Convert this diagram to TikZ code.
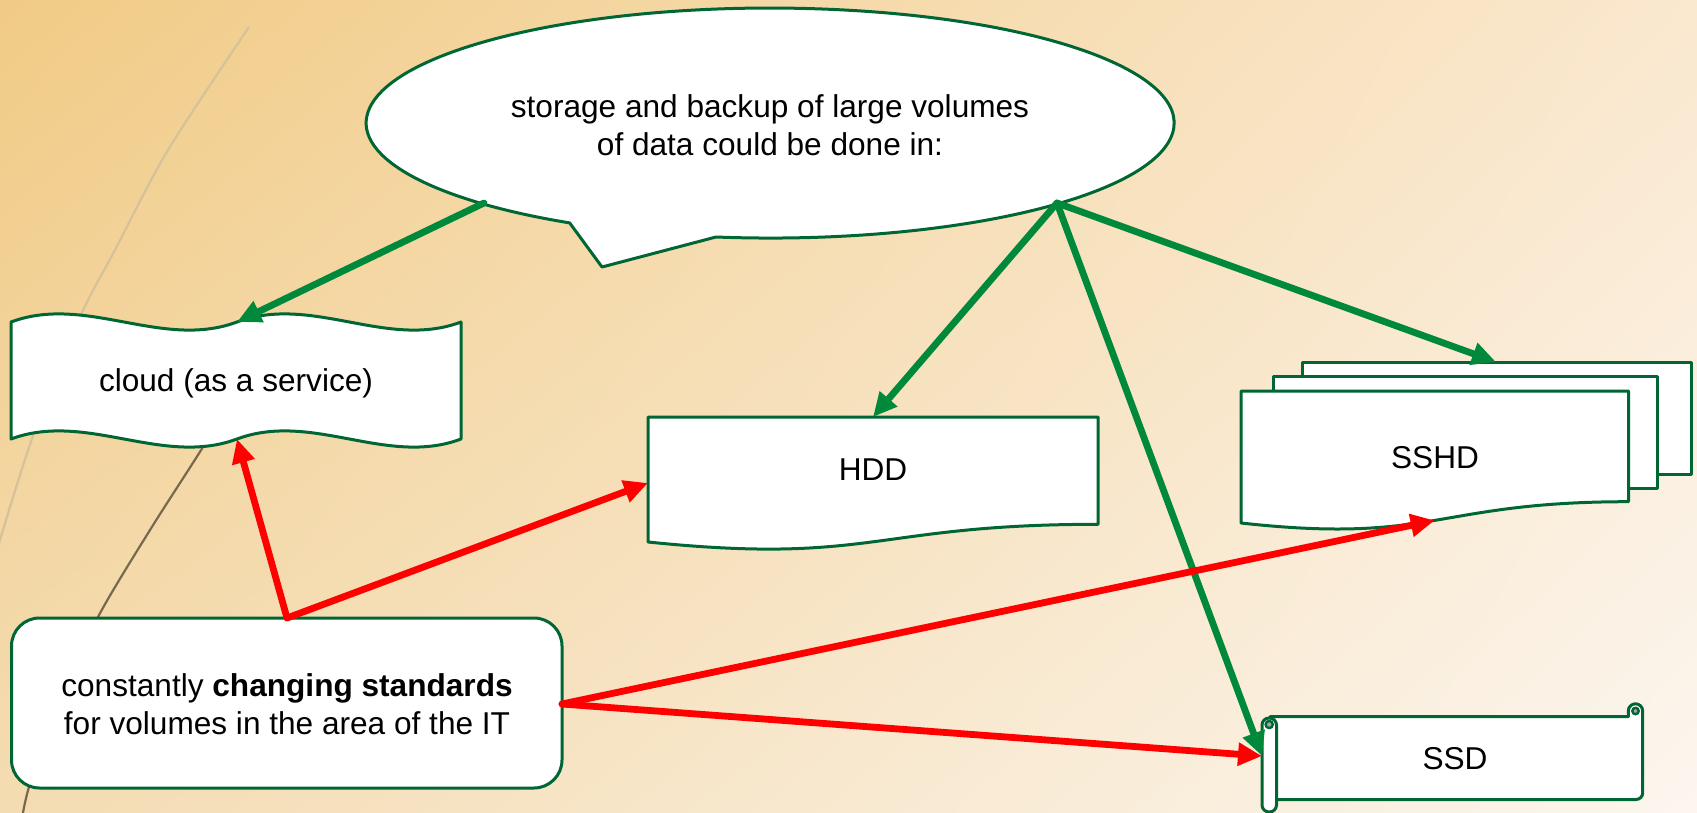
\documentclass[tikz,border=0pt]{standalone}
\usepackage{fontspec}
\setmainfont{Liberation Sans}
\usetikzlibrary{arrows.meta,shadings}

\definecolor{bgUL}{HTML}{F1CB85}
\definecolor{bgUR}{HTML}{FAE8CF}
\definecolor{bgLL}{HTML}{F4DCB2}
\definecolor{bgLR}{HTML}{FCF6EF}
\definecolor{arcLight}{HTML}{D5C29A}
\definecolor{arcDark}{HTML}{776850}
\definecolor{outline}{HTML}{006633}
\definecolor{arrowgreen}{HTML}{00893A}
\definecolor{arrowred}{HTML}{FF0000}
\definecolor{curlgray}{HTML}{A6A6A6}

\begin{document}
\begin{tikzpicture}[x=0.5pt,y=-0.5pt,
  shapebox/.style={draw=outline, line width=1.5pt, fill=white, line join=round},
  label/.style={font=\fontsize{15.8}{19}\selectfont, align=center, inner sep=0pt, text=black},
  greenarrow/.style={draw=arrowgreen, line width=3.4pt, line cap=round,
    -{Triangle[length=12pt,width=11pt]}},
  redarrow/.style={draw=arrowred, line width=3.4pt, line cap=round,
    -{Triangle[length=12pt,width=11pt]}},
]
\useasboundingbox (0,0) rectangle (1697,813);

% background
\shade[upper left=bgUL, upper right=bgUR, lower left=bgLL, lower right=bgLR]
  (0,0) rectangle (1697,813);
\draw[arcLight, line width=1.1pt] plot[smooth] coordinates
  {(249,27) (168,150) (115,250) (80,317) (34,433) (0,540) (-10,580)};
\draw[arcDark, line width=1.1pt] plot[smooth] coordinates
  {(240,385) (203,447) (150,530) (98,617) (58,705) (29,787) (20,830)};

% speech bubble
\draw[shapebox] (716,237) arc[start angle=97.7, end angle=-240.25, x radius=404, y radius=115]
  -- (602,267) -- cycle;
\node[label] (callout) at (770,125) {storage and backup of large volumes\\of data could be done in:};

% cloud banner (double wave)
\draw[shapebox] (11,322) .. controls (86,294) and (162,350) .. (237,322)
  .. controls (312,294) and (387,350) .. (461,322)
  -- (461,439) .. controls (387,467) and (312,411) .. (237,439)
  .. controls (162,467) and (86,411) .. (11,439) -- cycle;
\node[label] (cloud) at (236,383) {cloud (as a service)};

% HDD document
\draw[shapebox] (648,417) -- (1098,417) -- (1098,524.3)
  .. controls (873,524.3) and (873,565.1) .. (648,542) -- cycle;
\node[label] (hdd) at (873,470) {HDD};

% SSHD multi-document
\draw[shapebox] (1302,362) rectangle (1691,474);
\draw[shapebox] (1273,376) rectangle (1657,488);
\draw[shapebox] (1241,391) -- (1628.5,391) -- (1628.5,501.7)
  .. controls (1434.7,501.7) and (1434.7,544.4) .. (1241,523) -- cycle;
\node[label] (sshd) at (1435,458) {SSHD};

% SSD scroll
\draw[shapebox] (1270,799.5) -- (1636,799.5)
  arc[start angle=90, end angle=0, radius=6.7] -- (1642.7,711)
  arc[start angle=0, end angle=-180, radius=7.2] -- (1628.3,716.7)
  -- (1270,716.7) -- cycle;
\draw[outline, line width=1.2pt, fill=curlgray] (1635.5,711) circle[radius=3.2];
\draw[shapebox, rounded corners=3.5pt] (1262,718) rectangle (1276.5,812);
\draw[outline, line width=1.2pt, fill=curlgray] (1269.2,724.5) circle[radius=3.6];
\node[label] (ssd) at (1455,759) {SSD};

% standards box
\draw[shapebox, rounded corners=14pt] (11.5,618) rectangle (562,788);
\node[label] (standards) at (287,704)
  {constantly \textbf{changing standards}\\for volumes in the area of the IT};

% connection points
\coordinate (callout-l) at (484,203);
\coordinate (callout-r) at (1057,203);
\coordinate (cloud-top) at (237,322);
\coordinate (cloud-bottom) at (237,439);
\coordinate (hdd-top) at (873,417);
\coordinate (hdd-left) at (648,483);
\coordinate (sshd-top) at (1496,362);
\coordinate (sshd-bottom) at (1434.7,520.4);
\coordinate (ssd-left) at (1262,756);
\coordinate (std-top) at (287,618);
\coordinate (std-right) at (562,704);

% green connectors
\draw[greenarrow] (callout-l) -- (cloud-top);
\draw[greenarrow] (callout-r) -- (hdd-top);
\draw[greenarrow] (callout-r) -- (sshd-top);
\draw[greenarrow] (callout-r) -- (ssd-left);

% red connectors
\draw[redarrow] (std-top) -- (cloud-bottom);
\draw[redarrow] (std-top) -- (hdd-left);
\draw[redarrow] (std-right) -- (sshd-bottom);
\draw[redarrow] (std-right) -- (ssd-left);
\end{tikzpicture}
\end{document}
